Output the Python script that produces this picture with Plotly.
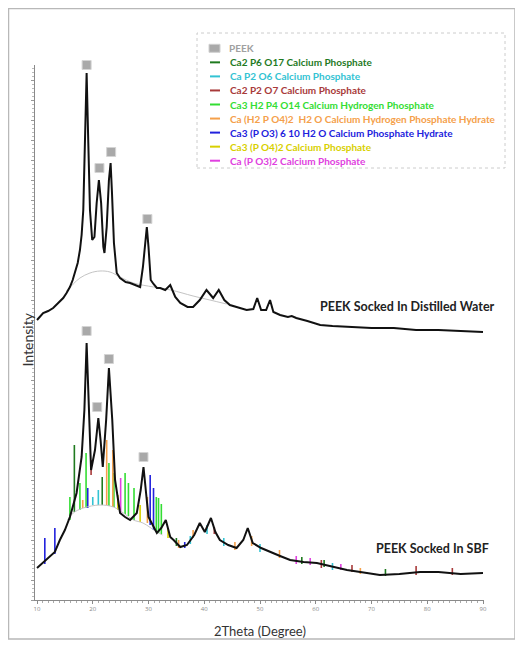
import plotly.graph_objects as go

# ---------------- data ----------------
two_theta_water = [10.0, 11.1, 12.0, 12.9, 13.8, 14.7, 15.3, 15.9, 16.4, 16.8, 17.3, 17.7, 18.0, 18.3, 18.6, 18.9,
                   19.2, 19.5, 19.9, 20.3, 20.7, 21.1, 21.5, 21.9, 22.1, 22.5, 22.9, 23.2, 23.45, 23.8, 24.3, 24.9,
                   25.9, 26.7, 27.6, 28.5, 29.0, 29.4, 29.7, 30.0, 30.4, 30.9, 31.5, 32.1, 33.0, 33.9, 34.8, 35.7,
                   37.0, 38.0, 39.2, 40.4, 41.0, 41.6, 42.6, 43.6, 44.6, 46.0, 47.6, 48.8, 49.5, 50.2, 51.1, 51.8,
                   52.4, 53.6, 55.0, 55.7, 56.5, 58.5, 60.8, 63.0, 66.0, 70.0, 74.0, 78.0, 82.0, 86.0, 90.0]
intensity_water = [280, 287, 289, 292, 297, 302, 307, 313, 320, 327, 337, 350, 365, 390, 457, 527,
                   457, 390, 360, 363, 397, 420, 397, 353, 347, 373, 420, 437, 407, 357, 327, 322,
                   318, 317, 315, 313, 333, 360, 373, 353, 320, 316, 312, 312, 310, 315, 303, 297,
                   293, 293, 300, 310, 306, 302, 310, 300, 295, 293, 290, 291, 302, 290, 290, 300,
                   288, 285, 283, 284, 282, 279, 275, 274, 273, 272, 272, 270, 270, 269, 268]

halo_water_x = [15.3, 16.5, 17.7, 19.5, 21.3, 23.1, 24.9, 27.3, 30.9, 34.0, 38.0, 41.0, 44.0]
halo_water_y = [309, 316, 322, 327, 329, 328, 323, 317, 313, 310, 304, 300, 296]

two_theta_sbf = [10.0, 11.0, 12.3, 13.2, 14.1, 15.0, 15.9, 17.1, 18.0, 18.5, 18.9, 19.3, 19.7, 20.4, 21.0, 21.4,
                 21.8, 22.4, 22.9, 23.5, 24.0, 24.9, 25.8, 26.7, 27.9, 28.6, 29.1, 29.6, 30.0, 31.5, 32.3, 33.1,
                 33.9, 34.5, 35.7, 36.9, 38.2, 39.2, 40.1, 41.2, 42.0, 42.8, 44.3, 45.8, 47.0, 47.8, 48.7, 50.2,
                 51.8, 53.6, 55.4, 57.8, 60.2, 63.0, 65.6, 68.0, 71.5, 75.0, 78.7, 82.0, 86.0, 90.0]
intensity_sbf = [32, 37, 43, 48, 60, 70, 83, 107, 143, 190, 257, 190, 130, 150, 182, 160,
                 133, 180, 232, 180, 120, 87, 83, 80, 87, 110, 133, 105, 83, 67, 72, 80,
                 63, 60, 53, 55, 65, 77, 68, 82, 68, 60, 55, 52, 60, 72, 57, 52,
                 48, 44, 40, 38, 37, 33, 30, 28, 25, 26, 28, 28, 26, 27]

halo_sbf_x = [15.5, 16.5, 18.3, 21.3, 23.7, 25.5, 27.3, 29.0, 31.5, 32.5]
halo_sbf_y = [80, 87, 92, 95, 93, 87, 80, 77, 68, 65]

peek_water_x = [18.9, 21.2, 23.3, 29.8]
peek_water_y = [535, 432, 448, 381]
peek_sbf_x = [18.9, 20.8, 22.9, 29.1]
peek_sbf_y = [269, 193, 241, 143]

phase_names = ["Ca2 P6 O17 Calcium Phosphate",
               "Ca P2 O6 Calcium Phosphate",
               "Ca2 P2 O7 Calcium Phosphate",
               "Ca3 H2 P4 O14 Calcium Hydrogen Phosphate",
               "Ca (H2 P O4)2  H2 O Calcium Hydrogen Phosphate Hydrate",
               "Ca3 (P O3) 6 10 H2 O Calcium Phosphate Hydrate",
               "Ca3 (P O4)2 Calcium Phosphate",
               "Ca (P O3)2 Calcium Phosphate"]
phase_colors = ["#1f7a1f", "#33c3d3", "#a83a3a", "#33dd33", "#f5a04a", "#2222dd", "#d8d000", "#e040e0"]

p1_pos = [16.7, 21.7, 35.0, 57.5, 61.5, 72.5]
p1_base = [88, 95, 54, 36, 33, 24]
p1_top = [155, 123, 62, 43, 40, 31]

p2_pos = [20.0, 21.0, 37.5, 40.5, 43.5, 50.0, 63.0]
p2_base = [95, 95, 56, 66, 54, 48, 30]
p2_top = [103, 110, 64, 75, 62, 56, 37]

p3_pos = [19.7, 41.8, 61.0, 66.5, 78.0, 84.5]
p3_base = [125, 66, 32, 28, 25, 25]
p3_top = [140, 73, 40, 35, 34, 32]

p4_pos = [15.9, 17.7, 18.8, 22.9, 23.8, 25.8, 26.4, 27.4, 31.4, 31.8, 32.3]
p4_base = [80, 90, 92, 94, 93, 86, 84, 80, 68, 67, 66]
p4_top = [103, 117, 147, 137, 127, 127, 117, 112, 103, 102, 96]

p5_pos = [18.2, 22.5, 23.6, 29.8, 35.4, 38.0, 45.5, 48.5, 53.5, 68.0]
p5_base = [92, 95, 93, 77, 52, 62, 50, 54, 42, 26]
p5_top = [100, 160, 150, 103, 60, 70, 58, 64, 50, 32]

p6_pos = [11.4, 13.2, 19.1, 30.3, 30.9, 36.5]
p6_base = [36, 46, 92, 75, 70, 52]
p6_top = [62, 72, 112, 125, 112, 58]

p7_pos = [24.5, 28.5, 33.5]
p7_base = [90, 78, 62]
p7_top = [105, 95, 72]

p8_pos = [25.0, 56.5, 59.0, 64.5]
p8_base = [87, 36, 35, 30]
p8_top = [122, 44, 42, 36]

x_ticks = [10, 20, 30, 40, 50, 60, 70, 80, 90]

stick_pos = [p1_pos, p2_pos, p3_pos, p4_pos, p5_pos, p6_pos, p7_pos, p8_pos]
stick_base = [p1_base, p2_base, p3_base, p4_base, p5_base, p6_base, p7_base, p8_base]
stick_top = [p1_top, p2_top, p3_top, p4_top, p5_top, p6_top, p7_top, p8_top]

# ---------------- figure ----------------
# the page body adds an 8px offset, so the figure is drawn 8px smaller
OFF = 8
W, H = 515, 632
L, R, T, B = 27, 39, 57, 40
pw, ph = W - L - R, H - T - B


def px(xp):
    return (xp - OFF - L) / pw


def py(yp):
    return (H - B - (yp - OFF)) / ph


fig = go.Figure()

# reference sticks (drawn beneath the measured pattern)
for name, col, pos, base, top in zip(phase_names, phase_colors, stick_pos, stick_base, stick_top):
    xs, ys = [], []
    for p, b, t in zip(pos, base, top):
        xs += [p, p, None]
        ys += [b, t, None]
    fig.add_trace(go.Scatter(x=xs, y=ys, mode="lines", name=name,
                             line=dict(color=col, width=1.6), showlegend=False, hoverinfo="skip"))

# amorphous halos
fig.add_trace(go.Scatter(x=halo_water_x, y=halo_water_y, mode="lines", line=dict(color="#c4c4c4", width=1),
                         line_shape="spline", showlegend=False))
fig.add_trace(go.Scatter(x=halo_sbf_x, y=halo_sbf_y, mode="lines", line=dict(color="#c4c4c4", width=1),
                         line_shape="spline", showlegend=False))

# measured patterns
fig.add_trace(go.Scatter(x=two_theta_water, y=intensity_water, mode="lines", name="PEEK Socked In Distilled Water",
                         line=dict(color="#111111", width=2), showlegend=False))
fig.add_trace(go.Scatter(x=two_theta_sbf, y=intensity_sbf, mode="lines", name="PEEK Socked In SBF",
                         line=dict(color="#111111", width=2), showlegend=False))

# PEEK peak markers
for xs, ys in [(peek_water_x, peek_water_y), (peek_sbf_x, peek_sbf_y)]:
    fig.add_trace(go.Scatter(x=xs, y=ys, mode="markers", name="PEEK", cliponaxis=False,
                             marker=dict(symbol="square", size=9, color="#a9a9a9",
                                         line=dict(color="#d4d4d4", width=1)),
                             showlegend=False))

shapes = []
annotations = []

# outer frame
shapes.append(dict(type="rect", xref="paper", yref="paper", x0=px(8.5), x1=px(515), y0=py(639), y1=py(8.5),
                   line=dict(color="#b8b8b8", width=1.5), layer="below"))

# legend box
shapes.append(dict(type="rect", xref="paper", yref="paper", x0=px(197), x1=px(505), y0=py(168), y1=py(33),
                   line=dict(color="#cccccc", width=1, dash="dot"), fillcolor="white"))

leg_font = "Lato, 'Open Sans', sans-serif"
row0 = 48.3
step = 14.05
# PEEK entry
shapes.append(dict(type="rect", xref="paper", yref="paper", x0=px(209), x1=px(220), y0=py(row0 + 4),
                   y1=py(row0 - 4), line=dict(color="#d0d0d0", width=1), fillcolor="#a9a9a9"))
annotations.append(dict(xref="paper", yref="paper", x=px(227), y=py(row0), xanchor="left", yanchor="middle",
                        text="<b>PEEK</b>", showarrow=False,
                        font=dict(family=leg_font, size=10, color="#a0a0a0")))
for i, (name, col) in enumerate(zip(phase_names, phase_colors)):
    yy = row0 + step * (i + 1)
    shapes.append(dict(type="line", xref="paper", yref="paper", x0=px(210), x1=px(220), y0=py(yy), y1=py(yy),
                       line=dict(color=col, width=2)))
    annotations.append(dict(xref="paper", yref="paper", x=px(228), y=py(yy), xanchor="left", yanchor="middle",
                            text="<b>" + name.replace("  ", "&nbsp; ") + "</b>", showarrow=False,
                            font=dict(family=leg_font, size=10, color=col)))

# curve labels
annotations.append(dict(x=76.5, y=294, xref="x", yref="y", text="<b>PEEK Socked In Distilled Water</b>",
                        showarrow=False, font=dict(family=leg_font, size=12.5, color="#222222")))
annotations.append(dict(x=80.9, y=52, xref="x", yref="y", text="<b>PEEK Socked In SBF</b>",
                        showarrow=False, font=dict(family=leg_font, size=12.5, color="#222222")))

# axis titles
annotations.append(dict(xref="paper", yref="paper", x=px(260), y=py(622), yanchor="top",
                        text="2Theta (Degree)", showarrow=False, borderpad=0,
                        font=dict(family=leg_font, size=13, color="#333333")))
annotations.append(dict(xref="paper", yref="paper", x=px(17), y=py(340), text="Intensity", showarrow=False,
                        textangle=-90, font=dict(family=leg_font, size=14, color="#333333")))

fig.update_layout(
    width=W, height=H,
    margin=dict(l=L, r=R, t=T, b=B),
    plot_bgcolor="white", paper_bgcolor="white",
    showlegend=False,
    shapes=shapes, annotations=annotations,
    xaxis=dict(range=[9.64, 90.18], showgrid=False, zeroline=False, showline=True, linecolor="#8a8a8a",
               linewidth=1, ticks="outside", ticklen=3, tickcolor="#8a8a8a", tickvals=x_ticks,
               tickfont=dict(size=6, color="#888888"),
               minor=dict(dtick=1, ticks="outside", ticklen=2, tickcolor="#aaaaaa")),
    yaxis=dict(range=[0, 535], showgrid=False, zeroline=False, showline=True, linecolor="#8a8a8a",
               linewidth=1, ticks="outside", ticklen=3, tickcolor="#999999", dtick=20, showticklabels=False,
               minor=dict(dtick=4, ticks="outside", ticklen=2, tickcolor="#bbbbbb")),
)

fig.write_html("out.html")
